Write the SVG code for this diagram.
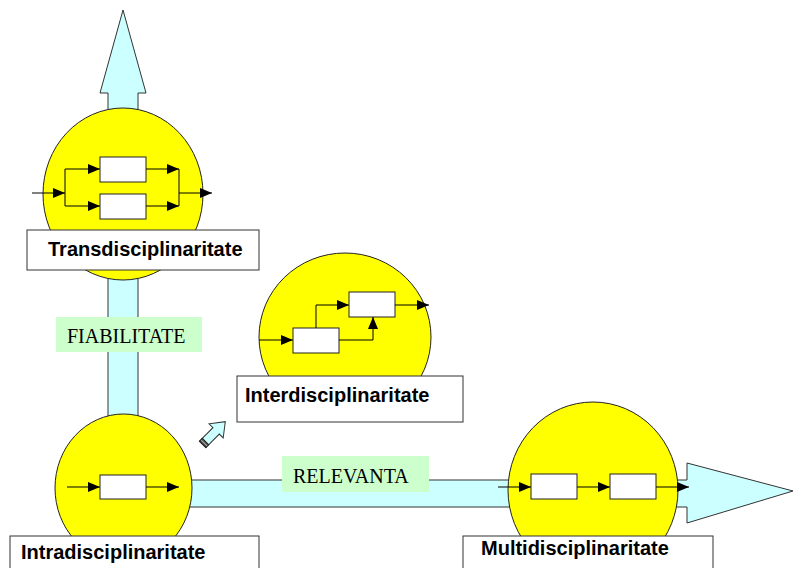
<svg xmlns="http://www.w3.org/2000/svg" width="793" height="568" viewBox="0 0 793 568">
  <defs>
    <marker id="ah" markerUnits="userSpaceOnUse" markerWidth="13" markerHeight="11" refX="12" refY="5" orient="auto">
      <path d="M0,0 L12,5 L0,10 z" fill="#000"/>
    </marker>
    <style>
      .shaft { fill: #ccffff; stroke: #333; stroke-width: 1; }
      .disc { fill: #ffff00; stroke: #222; stroke-width: 1; }
      .blk { fill: #fff; stroke: #222; stroke-width: 1; }
      .flow { fill: none; stroke: #000; stroke-width: 1; }
      .arr { fill: none; stroke: #000; stroke-width: 1; marker-end: url(#ah); }
      .lbox { fill: #fff; stroke: #333; stroke-width: 1; }
      .lbl { font-family: "Liberation Sans", Arial, sans-serif; font-weight: bold; font-size: 20px; fill: #000; }
      .tag { fill: #ccffcc; stroke: none; }
      .tagtxt { font-family: "Liberation Serif", "Times New Roman", serif; font-size: 20px; fill: #000; }
    </style>
  </defs>

  <!-- big block arrows (axes) -->
  <g id="connectors">
    <polygon class="shaft" points="108,445 108,93 100,93 123,10 146,93 138,93 138,445"/>
    <polygon class="shaft" points="180,480 687,480 687,463 793,491 687,523 687,507 180,507"/>
    <!-- small diagonal arrow -->
    <g transform="translate(214,433) rotate(-45)">
      <polygon class="shaft" points="-16,-4.5 3,-4.5 3,-10 16,0 3,10 3,4.5 -16,4.5"/>
      <rect x="-16" y="-4.5" width="4" height="9" fill="#555" stroke="#222" stroke-width="1"/>
      <line x1="-14" y1="-4.5" x2="-14" y2="4.5" stroke="#ccc" stroke-width="0.8"/>
    </g>
  </g>

  <!-- Transdisciplinaritate -->
  <g id="trans">
    <ellipse class="disc" cx="123" cy="194" rx="80" ry="86"/>
    <line class="arr" x1="32" y1="193" x2="65" y2="193"/>
    <line class="flow" x1="65" y1="169" x2="65" y2="206"/>
    <line class="arr" x1="65" y1="169" x2="100" y2="169"/>
    <line class="arr" x1="65" y1="206" x2="100" y2="206"/>
    <rect class="blk" x="100" y="157" width="46" height="25"/>
    <rect class="blk" x="100" y="194" width="46" height="25"/>
    <line class="arr" x1="146" y1="169" x2="179" y2="169"/>
    <line class="arr" x1="146" y1="206" x2="179" y2="206"/>
    <line class="flow" x1="179" y1="169" x2="179" y2="206"/>
    <line class="arr" x1="179" y1="193" x2="212" y2="193"/>
    <rect class="lbox" x="27" y="230" width="232" height="40"/>
    <text class="lbl" x="48" y="256">Transdisciplinaritate</text>
  </g>

  <!-- Interdisciplinaritate -->
  <g id="inter">
    <ellipse class="disc" cx="345" cy="337" rx="86" ry="84"/>
    <line class="arr" x1="259" y1="340" x2="293" y2="340"/>
    <rect class="blk" x="293" y="328" width="46" height="25"/>
    <polyline class="arr" points="316,328 316,305 349,305"/>
    <rect class="blk" x="349" y="292" width="46" height="25"/>
    <polyline class="arr" points="339,340 373,340 373,317"/>
    <line class="arr" x1="395" y1="305" x2="429" y2="305"/>
    <rect class="lbox" x="237" y="376" width="226" height="46"/>
    <text class="lbl" x="245" y="402">Interdisciplinaritate</text>
  </g>

  <!-- Intradisciplinaritate -->
  <g id="intra">
    <ellipse class="disc" cx="123.5" cy="488" rx="68.5" ry="74"/>
    <line class="arr" x1="67" y1="487" x2="100" y2="487"/>
    <rect class="blk" x="100" y="475" width="46" height="24"/>
    <line class="arr" x1="146" y1="487" x2="179" y2="487"/>
    <rect class="lbox" x="10" y="536" width="249" height="40"/>
    <text class="lbl" x="21" y="559">Intradisciplinaritate</text>
  </g>

  <!-- Multidisciplinaritate -->
  <g id="multi">
    <ellipse class="disc" cx="593" cy="490" rx="85" ry="88"/>
    <line class="arr" x1="498" y1="487" x2="531" y2="487"/>
    <rect class="blk" x="531" y="474" width="46" height="25"/>
    <line class="arr" x1="577" y1="487" x2="610" y2="487"/>
    <rect class="blk" x="610" y="474" width="46" height="25"/>
    <line class="arr" x1="656" y1="487" x2="689" y2="487"/>
    <rect class="lbox" x="463" y="536" width="250" height="40"/>
    <text class="lbl" x="481" y="555">Multidisciplinaritate</text>
  </g>

  <!-- axis captions -->
  <g id="fiabilitate">
    <rect class="tag" x="56" y="317" width="146" height="35"/>
    <text class="tagtxt" x="67" y="343">FIABILITATE</text>
  </g>
  <g id="relevanta">
    <rect class="tag" x="282" y="456" width="147" height="36"/>
    <text class="tagtxt" x="293" y="483">RELEVANTA</text>
  </g>
</svg>
